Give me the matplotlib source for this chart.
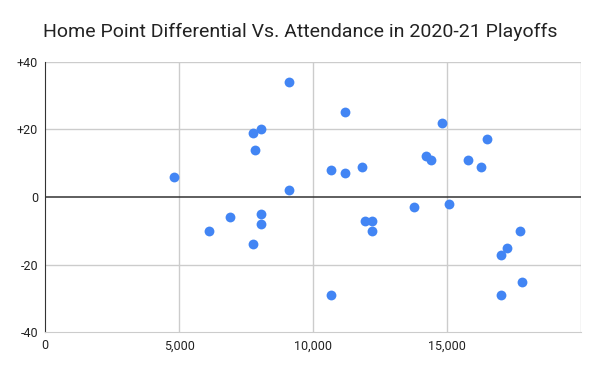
import matplotlib
matplotlib.use("Agg")
import matplotlib.pyplot as plt
from matplotlib.ticker import FixedLocator

plt.rcParams['font.family'] = ['Roboto', 'DejaVu Sans']

attendance = [4813, 6119, 6903, 8060, 8060, 7750, 7750, 8072, 7836, 9116, 9116,
              10672, 11168, 11168, 11828, 10672, 11928, 12189, 12189, 13757, 15063,
              14205, 14403, 14788, 16467, 15758, 16269, 17698, 17239, 17003, 17773, 17003]
point_diff = [6, -10, -6, -5, -8, -14, 19, 20, 14, 34, 2,
              8, 7, 25, 9, -29, -7, -7, -10, -3, -2,
              12, 11, 22, 17, 11, 9, -10, -15, -17, -25, -29]

x_ticks = [0, 5000, 10000, 15000]
x_tick_labels = ["0", "5,000", "10,000", "15,000"]
y_ticks = [-40, -20, 0, 20, 40]
y_tick_labels = ["-40", "-20", "0", "+20", "+40"]
title = "Home Point Differential Vs. Attendance in 2020-21 Playoffs"

fig = plt.figure(figsize=(6, 3.71), dpi=100)
ax = fig.add_axes([0.075, 0.104, 0.894, 0.730])
ax.set_xlim(0, 20000)
ax.set_ylim(-40, 40)

grid_color = "#cccccc"
for xv in [5000, 10000, 15000, 20000]:
    ax.axvline(xv, color=grid_color, lw=1, zorder=0)
for yv in [-20, 20, 40]:
    ax.axhline(yv, color=grid_color, lw=1, zorder=0)
ax.axhline(0, color="#333333", lw=1.1, zorder=1)

ax.scatter(attendance, point_diff, s=50, color="#4285F4", zorder=3, linewidths=0)

for s in ["top", "right"]:
    ax.spines[s].set_visible(False)
ax.spines["left"].set_color("#333333")
ax.spines["bottom"].set_color(grid_color)

ax.xaxis.set_major_locator(FixedLocator(x_ticks))
ax.set_xticklabels(x_tick_labels)
ax.yaxis.set_major_locator(FixedLocator(y_ticks))
ax.set_yticklabels(y_tick_labels)
ax.tick_params(length=0, labelsize=9, labelcolor="#222222", pad=5)

fig.text(0.5, 0.915, title, ha="center", va="center", fontsize=14, color="#222222")

fig.savefig("out.png", dpi=100)
